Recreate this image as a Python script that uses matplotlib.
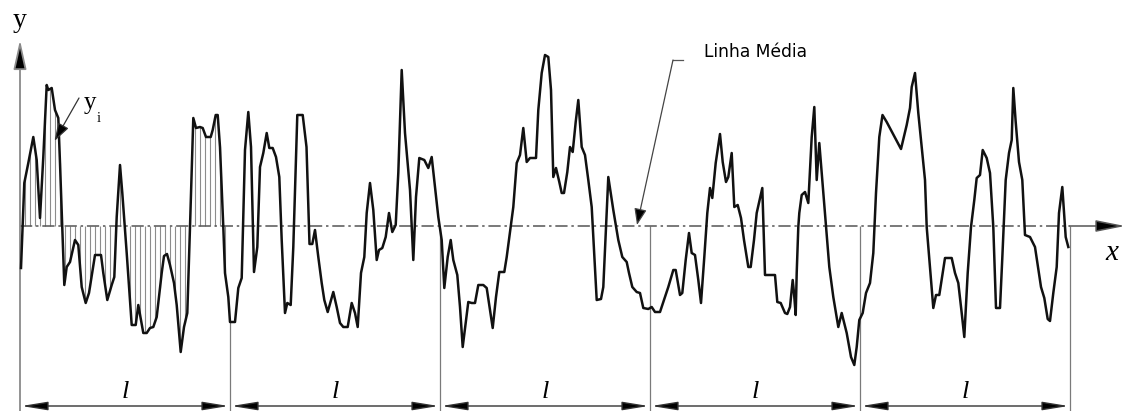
import numpy as np
import matplotlib
matplotlib.use("Agg")
import matplotlib.pyplot as plt

# Roughness profile: position along the surface and height above the mean line
profile_x = [21, 24.3, 28.3, 33.3, 36.7, 40, 43.3, 46.7, 48.3, 51.7, 55, 58.3, 60, 64.3, 66.7,
             70, 75, 78.3, 81.7, 85.7, 89, 95, 101, 103.3, 107.3, 111.7, 114.3, 116.7, 120, 122.3,
             126.7, 131.7, 135.7, 138.3, 143.3, 146.7, 150, 153.3, 156.7, 161.7, 164, 167, 170,
             174, 176.7, 180.7, 184, 187.3, 190, 193.3, 196, 200, 202.7, 206, 210.7, 212.7, 215.7,
             217.7, 220, 223.3, 225, 228.3, 230, 235, 238.3, 241.7, 245, 248.3, 251, 254, 257.3,
             260, 263.3, 266.7, 269.3, 272.7, 276, 279.3, 281.7, 285, 287.3, 290.7, 293.3, 297.3,
             302.7, 306.5, 309.5, 312.3, 315, 318.3, 321.7, 324.3, 327.7, 333.3, 336.7, 340, 343.3,
             347.7, 351.7, 355, 357.7, 361, 364.3, 366.7, 370, 373.3, 376.7, 379, 382.3, 385.7, 389,
             392.3, 395.7, 398.3, 401.7, 405, 410, 413.3, 416, 419.3, 424.3, 428.3, 431.7, 435,
             438.3, 441.7, 444.3, 447.7, 450.7, 453.3, 457.3, 460, 462.7, 466, 468.3, 471.7, 475,
             478.3, 483.3, 486.7, 490, 492.7, 496, 499.3, 504.3, 506.7, 510, 513.3, 516.7, 520,
             523.3, 526.7, 530, 536, 538.3, 541.7, 545, 548.3, 551, 553.3, 556, 559.3, 561.7, 564,
             567.3, 570, 572.7, 575.7, 578.3, 581.7, 585, 588.3, 591.7, 594, 596.7, 601, 603.3,
             608.3, 613.3, 618.3, 622.3, 626.7, 629, 632.3, 636.7, 640, 643.3, 648.3, 651.7, 655,
             660, 663.3, 668.3, 673.3, 675.7, 680, 682.3, 685.7, 689, 691.7, 695, 698.3, 701, 704.3,
             707.3, 710, 712.3, 715.7, 720, 722.7, 726, 728.3, 731.7, 734.3, 737.7, 741, 744, 748.3,
             750.7, 754, 756.7, 762.3, 765, 775, 777.3, 780.7, 785, 787.3, 790, 792.7, 794, 795.7,
             796.7, 798.3, 799.3, 801.7, 805, 808.3, 811.7, 814.3, 816.7, 819.3, 821.7, 826, 829.3,
             833.3, 838.3, 841.7, 846.7, 851, 854.3, 856.7, 859.3, 862.7, 866, 870, 873.3, 876,
             879.3, 882.5, 886.7, 901, 906.7, 910, 911.7, 915, 918.3, 925, 926.7, 930, 933.3, 936,
             939.3, 945, 951.7, 955, 958.3, 961.7, 964.3, 967.7, 971, 974.3, 976.7, 980, 982.7,
             986.7, 990, 993.3, 996, 1000, 1002.3, 1005.7, 1009, 1011.7, 1013.3, 1015.7, 1019,
             1022.3, 1025, 1030, 1035, 1041, 1044.3, 1047.7, 1050, 1053.3, 1056.7, 1059, 1062.3,
             1065.7, 1068.3]
profile_y = [-42, 43, 63, 89, 66, 8, 69, 141, 136, 138, 116, 108, 63, -59, -41,
             -36, -14, -19, -61, -77, -67, -29, -29, -47, -74, -59, -51, 9, 61, 33,
             -27, -99, -99, -79, -107, -107, -102, -101, -91, -47, -30, -28, -39,
             -57, -79, -126, -101, -87, -1, 108, 98, 99, 98, 89, 89, 96, 111,
             111, 79, -1, -47, -71, -96, -96, -62, -52, 76, 114, 79, -46, -21,
             59, 73, 93, 78, 78, 69, 49, -14, -87, -77, -79, -21, 111,
             111, 79, -18, -18, -4, -31, -57, -74, -86, -66, -81, -97, -101,
             -101, -77, -87, -101, -47, -31, 13, 43, 16, -34, -24, -22, -11, 13,
             -6, 1, 53, 156, 93, 36, -34, 29, 68, 66, 58, 69, 39,
             9, -14, -62, -31, -14, -34, -49, -81, -121, -94, -76, -77, -77,
             -59, -59, -62, -84, -102, -71, -46, -46, -31, -6, 19, 63, 71,
             98, 64, 68, 68, 116, 153, 171, 169, 136, 49, 58, 44, 33, 33,
             54, 79, 74, 104, 126, 79, 71, 46, 19, -24, -74, -73, -61,
             49, 16, -14, -31, -36, -47, -61, -66, -67, -82, -83, -81, -86,
             -86, -76, -61, -44, -44, -69, -67, -34, -7, -27, -29, -54, -77, -31,
             13, 38, 28, 63, 92, 64, 44, 49, 73, 19, 21, 8, -14, -41,
             -41, -14, 13, 38, -49, -49, -76, -77, -87, -88, -81, -54, -67, -89,
             -47, -1, 13, 31, 34, 23, 89, 119, 46, 83, 53, -1, -41,
             -71, -101, -87, -107, -131, -139, -121, -94, -87, -67, -57, -27, 33,
             89, 111, 104, 77, 101, 118, 139, 153, 113, 46, -1, -41, -82, -69,
             -69, -32, -32, -47, -57, -87, -111, -47, -1, 26, 48, 51, 76,
             68, 53, -1, -82, -82, -32, 46, 73, 86, 138, 104, 64,
             46, -9, -11, -21, -61, -72, -93, -95, -67, -41, 13, 39,
             -11, -21]

# Sampling lengths along the x axis
origin_x = 20
sample_len = 210
n_samples = 5
boundary_on_profile = [True, True, False, False, False]
hatch_step = 5

mean_label = "Linha Média"
sample_label = "l"
serif = "Liberation Serif"

fig = plt.figure(figsize=(11.26, 4.11), dpi=100)
ax = fig.add_axes([0, 0, 1, 1])
ax.set_xlim(0, 1126)
ax.set_ylim(-185, 226)
ax.axis("off")

px = np.array(profile_x)
py = np.array(profile_y)
end_x = origin_x + n_samples * sample_len

# hatching between the mean line and the profile over the first sampling length
hx = np.arange(origin_x + 5, origin_x + sample_len - 3, hatch_step)
ax.vlines(hx, 0, np.interp(hx, px, py), color="#8c8c8c", lw=0.8, zorder=1)

# mean line (dash-dot) and x axis arrow
ax.plot([origin_x, end_x], [0, 0], color="#555555", lw=1.1,
        linestyle=(0, (8, 2.5, 1.6, 2.5)), zorder=2)
ax.annotate("", xy=(1125, 0), xytext=(end_x, 0),
            arrowprops=dict(arrowstyle="-|>,head_length=18,head_width=3.6",
                            mutation_scale=1, fc="black", ec="#555555", lw=1.1,
                            shrinkA=0, shrinkB=0))

# y axis
ax.annotate("", xy=(origin_x, 186), xytext=(origin_x, -185),
            arrowprops=dict(arrowstyle="-|>,head_length=18,head_width=4",
                            mutation_scale=1, fc="black", ec="#8a8a8a", lw=1.3,
                            shrinkA=0, shrinkB=0))

# sampling length boundaries
for k in range(1, n_samples + 1):
    bx = origin_x + k * sample_len
    top = float(np.interp(bx, px, py)) if boundary_on_profile[k - 1] else 0.0
    ax.vlines(bx, -185, top, color="#7a7a7a", lw=0.9, zorder=1)

# profile
ax.plot(px, py, color="#111111", lw=1.8, solid_joinstyle="round", zorder=3)

# dimension lines for each sampling length
for k in range(n_samples):
    a = origin_x + k * sample_len
    b = a + sample_len
    ax.annotate("", xy=(a, -180), xytext=(b, -180),
                arrowprops=dict(arrowstyle="<|-|>,head_length=16,head_width=2.6",
                                mutation_scale=1, fc="black", ec="#333333", lw=1.0,
                                shrinkA=1, shrinkB=1))
    ax.text((a + b) / 2, -172, sample_label, family=serif, style="italic",
            size=19, ha="center", va="baseline")

# axis labels
ax.text(origin_x, 199, "y", family=serif, size=20, ha="center", va="baseline")
ax.text(1112, -34, "x", family=serif, style="italic", size=21, ha="center", va="baseline")

# y_i label with leader arrow
ax.text(84, 117, "y", family=serif, size=18, ha="left", va="baseline")
ax.text(97, 104, "i", family=serif, size=10.5, ha="left", va="baseline")
ax.annotate("", xy=(54.5, 85), xytext=(79, 128),
            arrowprops=dict(arrowstyle="-|>,head_length=11,head_width=3.6",
                            mutation_scale=1, fc="black", ec="#333333", lw=0.9,
                            shrinkA=0, shrinkB=0))

# mean line label with leader arrow
ax.text(704, 169, mean_label, family="DejaVu Sans", size=12.3, ha="left", va="baseline")
ax.plot([683, 673], [166, 166], color="#555555", lw=0.9)
ax.annotate("", xy=(637, 1), xytext=(673, 166),
            arrowprops=dict(arrowstyle="-|>,head_length=10,head_width=3.8",
                            mutation_scale=1, fc="black", ec="#444444", lw=0.9,
                            shrinkA=0, shrinkB=0))

fig.savefig("out.png", dpi=100, facecolor="white")
